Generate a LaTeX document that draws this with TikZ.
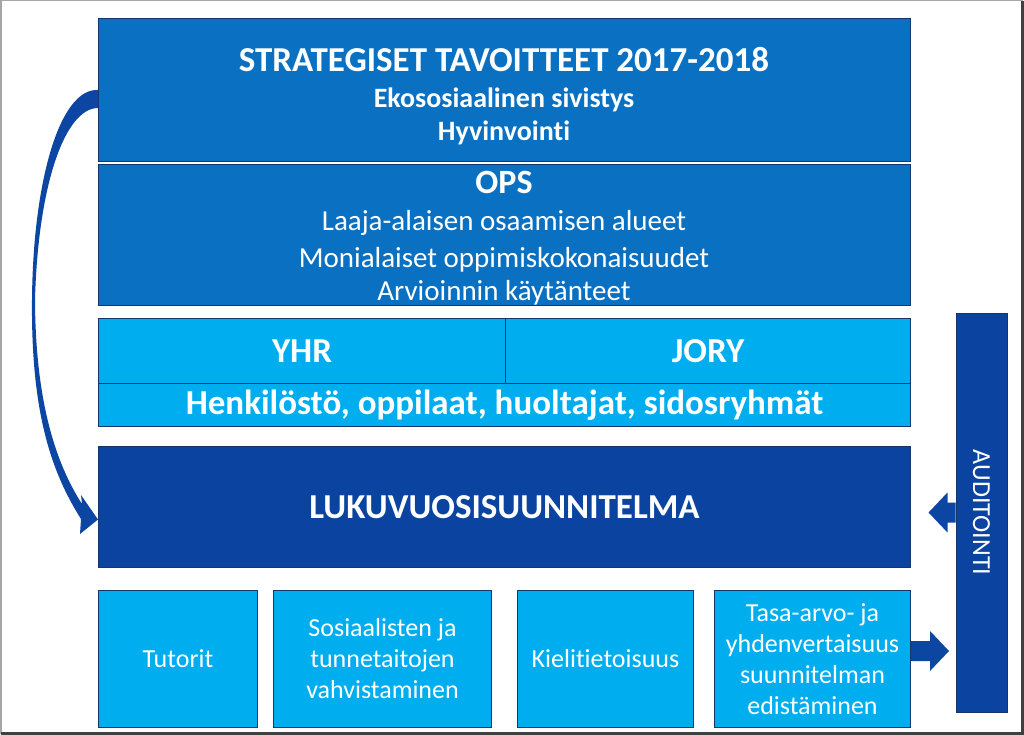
\documentclass[tikz,border=0pt]{standalone}
\usepackage{fontspec}
\setmainfont{Carlito}[Ligatures=NoCommon]

\definecolor{stratblue}{RGB}{10,112,194}
\definecolor{skyblue}{RGB}{0,174,239}
\definecolor{deepblue}{RGB}{10,68,160}
\definecolor{edgeblue}{RGB}{22,52,110}
\definecolor{arrowblue}{RGB}{12,70,162}

\begin{document}
\begin{tikzpicture}[x=1pt, y=-1pt,
    box/.style={draw=edgeblue, line width=1pt, anchor=north west, inner sep=0pt, text=white, align=center},
    txt/.style={text=white, anchor=base, inner sep=0pt},
    small/.style={font=\fontsize{26}{31}\selectfont},
    blockarrow/.style={fill=arrowblue}]
    \useasboundingbox (0,0) rectangle (1024,735);
    % frame with shadow
    \draw[black!35, line width=1.5pt] (0.75,0.75) rectangle (1022,733);
    \draw[black!75, line width=3pt] (1022,1) -- (1022,733.5) -- (1,733.5);

    % boxes
    \node[box, fill=stratblue, minimum width=812, minimum height=143] (strat) at (98,18) {};
    \node[box, fill=stratblue, minimum width=812, minimum height=141] (ops) at (98,164) {};
    \node[box, fill=skyblue, minimum width=407, minimum height=65, font=\bfseries\fontsize{35}{35}\selectfont] (yhr) at (98,318) {YHR};
    \node[box, fill=skyblue, minimum width=405, minimum height=65, font=\bfseries\fontsize{35}{35}\selectfont] (jory) at (505,318) {JORY};
    \node[box, fill=skyblue, minimum width=812, minimum height=43, text depth=6pt, font=\bfseries\fontsize{35}{35}\selectfont] (henk) at (98,383) {Henkilöstö, oppilaat, huoltajat, sidosryhmät};
    \node[box, fill=deepblue, minimum width=812, minimum height=121, font=\bfseries\fontsize{35}{35}\selectfont] (luku) at (98,446) {LUKUVUOSISUUNNITELMA};
    \node[box, fill=skyblue, minimum width=159, minimum height=137, small] (tutor) at (98,590) {Tutorit};
    \node[box, fill=skyblue, minimum width=218, minimum height=137, small] (sos) at (273,590) {Sosiaalisten ja\\tunnetaitojen\\vahvistaminen};
    \node[box, fill=skyblue, minimum width=176, minimum height=137, small] (kieli) at (517,590) {Kielitietoisuus};
    \node[box, fill=skyblue, minimum width=196, minimum height=137, small] (tasa) at (714,590) {Tasa-arvo- ja\\yhdenvertaisuus\\suunnitelman\\edistäminen};
    \node[box, fill=deepblue, anchor=center, rotate=-90, minimum width=399, minimum height=51, font=\fontsize{26}{26}\selectfont] (audit) at (981.5,512.5) {AUDITOINTI};

    % texts
    \node[txt, font=\bfseries\fontsize{35}{35}\selectfont] (strattitle) at (504,72) {STRATEGISET TAVOITTEET 2017-2018};
    \node[txt, font=\bfseries\fontsize{28}{28}\selectfont] (ekoso) at (504,108) {Ekososiaalinen sivistys};
    \node[txt, font=\bfseries\fontsize{28}{28}\selectfont] (hyvin) at (504,141) {Hyvinvointi};
    \node[txt, font=\bfseries\fontsize{34}{34}\selectfont] (opstitle) at (504,194) {OPS};
    \node[txt, font=\fontsize{29}{29}\selectfont] (laaja) at (504,231) {Laaja-alaisen osaamisen alueet};
    \node[txt, font=\fontsize{29}{29}\selectfont] (monial) at (504,267) {Monialaiset oppimiskokonaisuudet};
    \node[txt, font=\fontsize{29}{29}\selectfont] (arvio) at (504,300) {Arvioinnin käytänteet};

    % curved arrow
    \fill[arrowblue] (strat.west) .. controls (60,88) and (33,180) .. (32,300)
        .. controls (31,410) and (50,470) .. (81,519) -- (80,534) -- ([yshift=-12.5pt]luku.west)
        -- (81,495) -- (82,504) .. controls (55,462) and (35.5,400) .. (35,300)
        .. controls (38,185) and (65,108) .. ([yshift=-18pt]strat.west) -- cycle;

    % block arrows
    \fill[blockarrow] (audit.south) ++(0,-10) -- ++(-8,0) -- ++(0,-10) -- ++(-19,20) -- ++(19,20) -- ++(0,-10) -- ++(8,0) -- cycle;
    \fill[blockarrow] ([yshift=8pt]tasa.east) ++(0,-10) -- ++(19,0) -- ++(0,-10) -- ++(19,20) -- ++(-19,20) -- ++(0,-10) -- ++(-19,0) -- cycle;
\end{tikzpicture}
\end{document}
